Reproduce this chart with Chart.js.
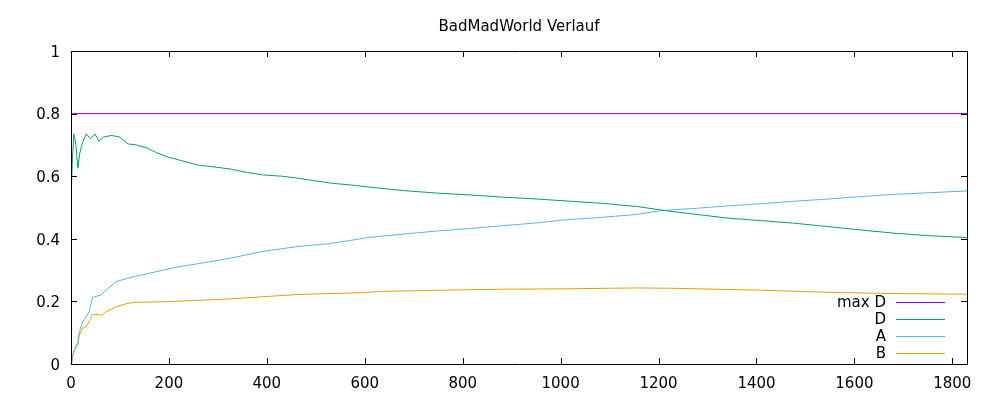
<!DOCTYPE html>
<html>
<head>
<meta charset="utf-8">
<script src="https://cdn.jsdelivr.net/npm/chart.js@4/dist/chart.umd.min.js"></script>
<style>
  html, body { margin: 0; padding: 0; background: #fff; }
  canvas { display: block; }
</style>
</head>
<body>
<canvas id="chart" width="1000" height="400"></canvas>
<script>
const titleText = 'BadMadWorld Verlauf'
const seriesNames = ['max D', 'D', 'A', 'B']
const seriesColors = ['#9400d3', '#009e73', '#56b4e9', '#e69f00']

const xTicks = [0, 200, 400, 600, 800, 1000, 1200, 1400, 1600, 1800]
const yTicks = [0, 0.2, 0.4, 0.6, 0.8, 1]
const xMax = 1830

const maxDx = [0, 1830]
const maxDy = [0.8, 0.8]

const dX = [1, 3, 6, 10, 14, 18, 24, 31, 40, 49, 57, 66, 82, 98, 117, 133, 155, 175, 196, 225, 258, 290, 325, 360, 393, 430, 462, 500, 530, 571, 611, 679, 748, 816, 883, 953, 1020, 1088, 1157, 1219, 1272, 1342, 1409, 1476, 1546, 1614, 1681, 1751, 1830]
const dY = [0.57, 0.66, 0.735, 0.70, 0.626, 0.674, 0.71, 0.735, 0.72, 0.735, 0.712, 0.725, 0.73, 0.726, 0.703, 0.70, 0.69, 0.675, 0.662, 0.65, 0.636, 0.63, 0.623, 0.612, 0.604, 0.60, 0.594, 0.585, 0.578, 0.572, 0.565, 0.554, 0.546, 0.54, 0.533, 0.527, 0.52, 0.513, 0.503, 0.489, 0.479, 0.466, 0.458, 0.45, 0.439, 0.428, 0.418, 0.41, 0.404]

const aX = [1, 4, 7, 14, 17, 24, 31, 37, 44, 61, 72, 92, 116, 133, 155, 188, 225, 258, 325, 393, 462, 530, 571, 611, 679, 748, 816, 883, 953, 1020, 1088, 1157, 1205, 1272, 1342, 1409, 1476, 1546, 1614, 1681, 1751, 1830]
const aY = [0, 0.03, 0.045, 0.071, 0.103, 0.135, 0.151, 0.167, 0.213, 0.22, 0.236, 0.263, 0.274, 0.281, 0.288, 0.30, 0.312, 0.32, 0.338, 0.36, 0.375, 0.385, 0.395, 0.405, 0.415, 0.425, 0.433, 0.442, 0.451, 0.462, 0.469, 0.478, 0.49, 0.497, 0.505, 0.512, 0.52, 0.527, 0.535, 0.542, 0.547, 0.553]

const bX = [1, 3, 7, 14, 17, 24, 31, 37, 44, 57, 61, 72, 92, 116, 133, 188, 258, 325, 393, 462, 530, 597, 632, 700, 800, 883, 1000, 1100, 1157, 1225, 1409, 1546, 1681, 1830]
const bY = [0, 0.023, 0.045, 0.06, 0.093, 0.114, 0.119, 0.135, 0.157, 0.159, 0.154, 0.167, 0.183, 0.194, 0.197, 0.199, 0.203, 0.208, 0.215, 0.222, 0.225, 0.228, 0.232, 0.234, 0.237, 0.239, 0.24, 0.242, 0.243, 0.242, 0.236, 0.229, 0.225, 0.223]

const FONT = 'DejaVu Sans'

const toPoints = (xs, ys) => xs.map((x, i) => ({ x: x, y: ys[i] }))

const allX = [maxDx, dX, aX, bX]
const allY = [maxDy, dY, aY, bY]

const datasets = seriesNames.map((name, i) => ({
  label: name,
  data: toPoints(allX[i], allY[i]),
  borderColor: seriesColors[i],
  borderWidth: 1,
  pointRadius: 0,
  fill: false,
  tension: 0
}))

// gnuplot-like frame: border, inward ticks, title, key
const gnuplotLook = {
  id: 'gnuplotLook',
  afterDraw(chart) {
    const c = chart.ctx
    const a = chart.chartArea
    const xs = chart.scales.x
    const ys = chart.scales.y
    const len = 6
    c.save()
    c.strokeStyle = '#000'
    c.lineWidth = 1
    c.beginPath()
    c.rect(a.left + 0.5, a.top + 0.5, a.right - a.left, a.bottom - a.top)
    for (const v of xTicks) {
      const px = Math.round(xs.getPixelForValue(v)) + 0.5
      c.moveTo(px, a.bottom); c.lineTo(px, a.bottom - len)
      c.moveTo(px, a.top); c.lineTo(px, a.top + len)
    }
    for (const v of yTicks) {
      const py = Math.round(ys.getPixelForValue(v)) + 0.5
      c.moveTo(a.left, py); c.lineTo(a.left + len, py)
      c.moveTo(a.right, py); c.lineTo(a.right - len, py)
    }
    c.stroke()

    c.fillStyle = '#000'
    c.font = '15px "' + FONT + '"'
    c.textAlign = 'center'
    c.textBaseline = 'middle'
    c.fillText(titleText, (a.left + a.right) / 2, 27)

    // key
    c.textAlign = 'right'
    seriesNames.forEach((name, i) => {
      const y = 302 + i * 17
      c.fillStyle = '#000'
      c.fillText(name, 886, y + 1)
      c.strokeStyle = seriesColors[i]
      c.beginPath()
      c.moveTo(896, Math.round(y) + 0.5)
      c.lineTo(945, Math.round(y) + 0.5)
      c.stroke()
    })
    c.restore()
  }
}

new Chart(document.getElementById('chart').getContext('2d'), {
  type: 'line',
  data: { datasets: datasets },
  options: {
    responsive: false,
    animation: false,
    layout: { padding: { top: 51, right: 33, left: 0, bottom: 0 } },
    plugins: {
      legend: { display: false },
      title: { display: false },
      tooltip: { enabled: false }
    },
    scales: {
      x: {
        type: 'linear',
        min: 0,
        max: xMax,
        afterBuildTicks: s => { s.ticks = xTicks.map(v => ({ value: v })) },
        afterFit: s => { s.height = 36 },
        ticks: {
          autoSkip: false,
          maxRotation: 0,
          padding: 11,
          color: '#000',
          font: { family: FONT, size: 15 },
          callback: v => String(v)
        },
        grid: { display: false, drawTicks: false },
        border: { display: false }
      },
      y: {
        type: 'linear',
        min: 0,
        max: 1,
        afterBuildTicks: s => { s.ticks = yTicks.map(v => ({ value: v })) },
        afterFit: s => { s.width = 71 },
        ticks: {
          padding: 11,
          labelOffset: 2,
          color: '#000',
          font: { family: FONT, size: 15 },
          callback: v => String(v)
        },
        grid: { display: false, drawTicks: false },
        border: { display: false }
      }
    }
  },
  plugins: [gnuplotLook]
})
</script>
</body>
</html>
